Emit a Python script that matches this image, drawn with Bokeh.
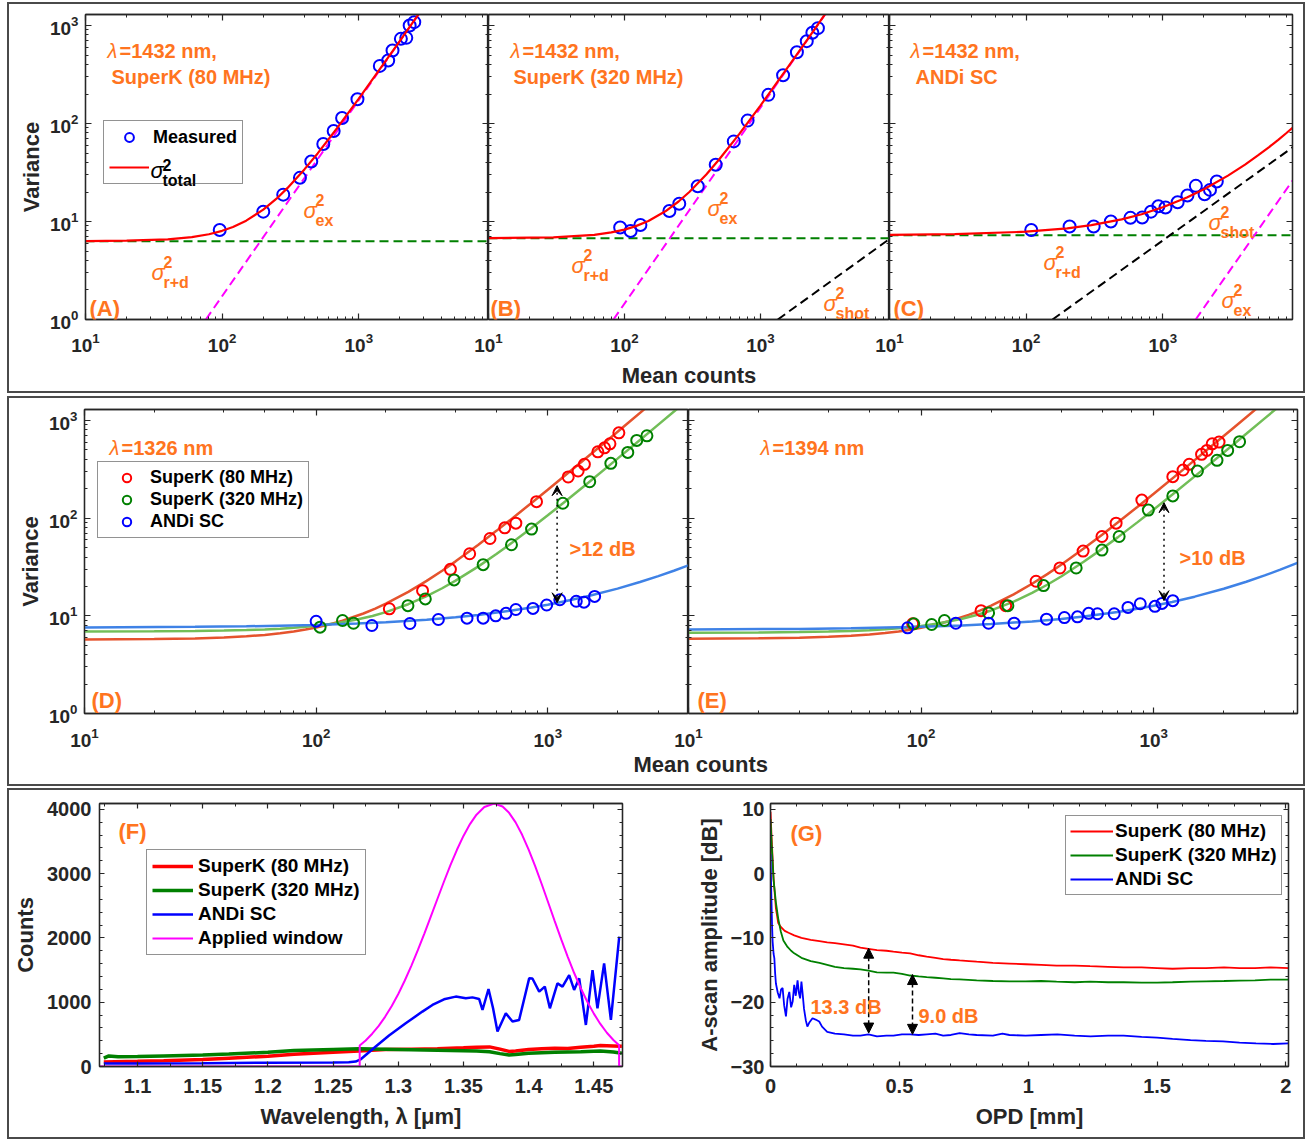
from bokeh.plotting import figure
from bokeh.models import (LogAxis, LinearAxis, Range1d, Label, Legend, LegendItem, Title,
                          Arrow, VeeHead, NormalHead, SingleIntervalTicker,
                          CustomJSTickFormatter)
from bokeh.layouts import row, column
from bokeh.embed import file_html
from bokeh.resources import INLINE

FONT = "Liberation Sans"
AX = "#262626"
ORANGE = "#FF7420"
BOX = {"border": "2px solid #4a4a4a"}

# ---------------- data: row 1 (lambda = 1432 nm) ----------------
A_meas_x = [96, 200, 280, 371, 449, 550, 655, 755, 978, 1426, 1642, 1766, 2033, 2227, 2357, 2547]
A_meas_y = [8.2, 12.6, 18.8, 27.9, 41, 61.7, 83.7, 113.7, 176.6, 387, 439, 555, 731, 748, 1001, 1082]
A_tot_x = [10, 20, 40, 60, 80, 100, 120, 150, 200, 250, 300, 400, 500, 700, 1000, 1500, 2000, 2700, 3000]
A_tot_y = [6.3, 6.37, 6.58, 6.92, 7.41, 8.03, 8.79, 10.2, 13.2, 17.1, 21.9, 34.0, 49.5, 91.1, 179, 396, 698, 1267, 1563]
A_rd_x = [10, 8900]
A_rd_y = [6.3, 6.3]
A_ex_x = [76, 2740]
A_ex_y = [1.0, 1299]

B_meas_x = [93, 111, 131, 214, 253, 346, 469, 637, 805, 1143, 1468, 1855, 2192, 2410, 2648]
B_meas_y = [8.7, 8.0, 9.2, 12.8, 15.2, 22.9, 37.9, 65.7, 107, 196, 311, 534, 692, 842, 940]
B_tot_x = [10, 30, 60, 80, 100, 120, 150, 200, 250, 300, 400, 500, 700, 1000, 1500, 2000, 2500, 3000]
B_tot_y = [6.76, 6.89, 7.31, 7.74, 8.27, 8.92, 10.1, 12.7, 16.0, 20.0, 30.2, 43.4, 78.3, 152.5, 334, 588, 915, 1314]
B_rd_x = [10, 8900]
B_rd_y = [6.74, 6.74]
B_ex_x = [83, 2990]
B_ex_y = [1.0, 1296]
B_shot_x = [1343, 8900]
B_shot_y = [1.0, 6.63]

C_meas_x = [109, 208, 312, 417, 580, 707, 820, 929, 1047, 1285, 1515, 1746, 2024, 2216, 2485]
C_meas_y = [8.2, 8.9, 8.9, 10.0, 10.9, 11.0, 12.6, 14.3, 13.9, 15.7, 18.4, 23.1, 19.0, 21.0, 25.6]
C_tot_x = [10, 30, 100, 200, 300, 500, 700, 1000, 1500, 2000, 3000, 4000, 5000, 6000, 7000, 8000, 8900]
C_tot_y = [7.29, 7.42, 7.87, 8.52, 9.18, 10.51, 11.87, 13.96, 17.57, 21.35, 29.4, 38.1, 47.5, 57.5, 68.2, 79.5, 90.3]
C_rd_x = [10, 8900]
C_rd_y = [7.23, 7.23]
C_shot_x = [156, 8900]
C_shot_y = [1.0, 57.0]
C_ex_x = [1741, 8900]
C_ex_y = [1.0, 26.1]

# ---------------- data: row 2 ----------------
D_red_px = [207, 288, 380, 460, 563, 652, 728, 894, 1225, 1352, 1439, 1645, 1758, 1855, 2027]
D_red_py = [11.8, 18.1, 29.9, 43.2, 61.9, 79.6, 88.9, 147.6, 264, 304, 356, 478, 525, 577, 747]
D_grn_px = [104, 130, 145, 249, 296, 394, 526, 697, 851, 1161, 1517, 1871, 2215, 2421, 2679]
D_grn_py = [7.65, 8.95, 8.4, 12.7, 14.9, 23.3, 33.4, 53.4, 77.2, 142, 236, 364, 471, 625, 697]
D_blu_px = [100, 174, 254, 337, 448, 526, 596, 660, 728, 863, 989, 1127, 1327, 1433, 1593]
D_blu_py = [8.8, 7.96, 8.34, 9.17, 9.46, 9.46, 10.0, 10.6, 11.6, 11.9, 12.9, 14.6, 14.1, 13.8, 15.8]
D_red_cx = [10, 20, 30, 40, 50, 60, 70, 80, 90, 100, 115, 130, 160, 180, 200, 250, 300, 350, 400, 500,
            600, 700, 850, 1000, 1400, 1800, 2200, 2600, 2800]
D_red_cy = [5.72, 5.78, 5.87, 6.0, 6.18, 6.38, 6.63, 6.92, 7.24, 7.6, 8.21, 8.91, 10.56, 11.86, 13.3, 17.6,
            22.8, 28.98, 36.1, 53.2, 74.1, 98.8, 143, 195.7, 378, 621, 925, 1290, 1495]
D_grn_cx = [10, 20, 30, 40, 50, 60, 70, 80, 90, 100, 120, 150, 175, 200, 250, 300, 350, 400, 500, 600,
            700, 850, 1000, 1200, 1500, 2000, 2500, 3000, 3600, 3800]
D_grn_cy = [6.91, 6.94, 6.99, 7.06, 7.15, 7.26, 7.39, 7.54, 7.71, 7.9, 8.34, 9.15, 9.96, 10.9, 13.15, 15.9,
            19.15, 22.9, 31.9, 42.9, 55.9, 79.15, 106.9, 150.9, 231.9, 406.9, 631.9, 906.9, 1302.9, 1450.9]
D_blu_cx = [10, 30, 50, 100, 150, 200, 300, 400, 500, 700, 850, 1000, 1200, 1500, 2000, 2500, 3000, 3500, 4050]
D_blu_cy = [7.6, 7.71, 7.81, 8.07, 8.34, 8.6, 9.13, 9.67, 10.22, 11.32, 12.16, 13.01, 14.16, 15.94, 18.99,
            22.18, 25.49, 28.94, 32.9]
D_arrow = [1097, 13.6, 215]

E_red_px = [92, 181, 231, 312, 395, 497, 599, 689, 889, 1208, 1337, 1421, 1605, 1693, 1784, 1909]
E_red_py = [8.3, 11.3, 12.7, 22.6, 30.9, 46, 64.9, 88.9, 153, 266, 311, 356, 450, 494, 577, 601]
E_grn_px = [93, 111, 126, 195, 236, 336, 464, 599, 710, 948, 1208, 1541, 1871, 2079, 2339]
E_grn_py = [8.3, 8.15, 8.95, 10.7, 12.7, 20.4, 30.9, 47.1, 64.9, 121, 169, 304, 391, 494, 606]
E_blu_px = [87.5, 141, 195, 251, 346, 413, 470, 525, 573, 676, 775, 875, 1012, 1085, 1208]
E_blu_py = [7.54, 8.4, 8.4, 8.4, 9.24, 9.6, 9.77, 10.6, 10.5, 10.5, 12.2, 13.3, 12.5, 13.4, 14.3]
E_red_cx = [10, 20, 30, 40, 50, 60, 70, 80, 90, 100, 115, 130, 160, 180, 200, 250, 300, 350, 400, 500,
            600, 700, 850, 1000, 1400, 1800, 2200, 2750, 2900]
E_red_cy = [5.84, 5.89, 5.98, 6.10, 6.25, 6.44, 6.66, 6.92, 7.21, 7.54, 8.10, 8.73, 10.22, 11.39, 12.7,
            16.57, 21.3, 26.89, 33.34, 48.82, 67.74, 90.1, 130.1, 177.8, 342.9, 563.1, 838.3, 1306.6, 1452]
E_grn_cx = [10, 20, 30, 40, 50, 60, 70, 80, 90, 100, 120, 150, 175, 200, 250, 300, 350, 400, 500, 600,
            700, 850, 1000, 1200, 1500, 2000, 2500, 3000, 3340, 3500]
E_grn_cy = [6.72, 6.76, 6.81, 6.90, 7.0, 7.13, 7.28, 7.45, 7.65, 7.87, 8.38, 9.32, 10.26, 11.35, 13.96,
            17.15, 20.92, 25.27, 35.71, 48.47, 63.55, 90.52, 122.7, 173.75, 267.7, 470.7, 731.7, 1050.7,
            1300.7, 1427.7]
E_blu_cx = [10, 30, 50, 100, 150, 200, 300, 400, 500, 700, 850, 1000, 1200, 1500, 2000, 2500, 3000, 3500, 4150]
E_blu_cy = [7.25, 7.35, 7.46, 7.71, 7.97, 8.24, 8.76, 9.3, 9.85, 10.96, 11.81, 12.68, 13.87, 15.71, 18.92,
            22.33, 25.92, 29.7, 34.9]
E_arrow = [1107, 14.3, 144]

# ---------------- data: row 3 ----------------
F_win_x = [1.0708, 1.2704, 1.2704, 1.275, 1.28, 1.285, 1.29, 1.295, 1.30, 1.305, 1.31, 1.315, 1.32, 1.325,
           1.33, 1.335, 1.34, 1.345, 1.35, 1.355, 1.36, 1.366, 1.3735, 1.38, 1.385, 1.39, 1.395, 1.40,
           1.405, 1.41, 1.415, 1.42, 1.425, 1.43, 1.435, 1.44, 1.445, 1.45, 1.455, 1.46, 1.465, 1.4694,
           1.4694, 1.472]
F_win_y = [0, 0, 326, 405, 510, 632, 776, 942, 1128, 1337, 1565, 1809, 2068, 2335, 2605, 2873, 3131, 3370,
           3586, 3770, 3916, 4036, 4090, 4043, 3945, 3796, 3603, 3373, 3116, 2838, 2550, 2261, 1976, 1705,
           1450, 1217, 1007, 822, 662, 525, 412, 329, 0, 0]
F_blu_x = [1.0741, 1.10, 1.15, 1.20, 1.25, 1.262, 1.2673, 1.271, 1.2827, 1.2929, 1.3057, 1.3185, 1.3262,
           1.3351, 1.3441, 1.3518, 1.3569, 1.3620, 1.3646, 1.3692, 1.3727, 1.3761, 1.3825, 1.3876, 1.3927,
           1.4004, 1.4029, 1.4081, 1.4124, 1.4163, 1.4221, 1.4260, 1.4311, 1.4349, 1.4388, 1.4439, 1.4490,
           1.4528, 1.4579, 1.4631, 1.4695]
F_blu_y = [45, 48, 52, 58, 62, 66, 77, 110, 310, 481, 672, 854, 957, 1045, 1087, 1060, 1075, 1050, 879,
           1205, 905, 543, 828, 699, 724, 1371, 1369, 1165, 1242, 905, 1293, 1242, 1422, 1190, 1371, 646,
           1500, 905, 1604, 724, 2019]
F_red_x = [1.0741, 1.10, 1.12, 1.15, 1.17, 1.20, 1.22, 1.25, 1.27, 1.29, 1.31, 1.33, 1.35, 1.36, 1.37,
           1.378, 1.385, 1.39, 1.40, 1.41, 1.42, 1.43, 1.44, 1.45, 1.455, 1.465, 1.4715]
F_red_y = [70, 80, 90, 110, 130, 160, 190, 220, 240, 265, 270, 275, 290, 300, 305, 270, 235, 240, 265, 275,
           285, 280, 300, 315, 325, 320, 315]
F_grn_x = [1.0741, 1.078, 1.085, 1.10, 1.12, 1.15, 1.17, 1.20, 1.22, 1.25, 1.27, 1.29, 1.31, 1.34, 1.36,
           1.37, 1.378, 1.385, 1.39, 1.40, 1.42, 1.44, 1.455, 1.465, 1.4715]
F_grn_y = [130, 165, 150, 155, 165, 180, 195, 220, 250, 265, 275, 270, 262, 250, 240, 230, 200, 180, 185,
           205, 220, 230, 240, 225, 205]

G_red_x = [0.0, 0.0045, 0.012, 0.021, 0.030, 0.040, 0.055, 0.07, 0.092, 0.12, 0.156, 0.19, 0.22, 0.25,
           0.285, 0.32, 0.349, 0.38, 0.413, 0.45, 0.477, 0.51, 0.542, 0.575, 0.606, 0.64, 0.67, 0.70, 0.734,
           0.77, 0.80, 0.863, 0.927, 0.99, 1.05, 1.11, 1.18, 1.24, 1.31, 1.37, 1.44, 1.50, 1.56, 1.63, 1.69,
           1.76, 1.82, 1.88, 1.94, 2.01]
G_red_y = [9.6, 5.4, -0.8, -5.4, -7.7, -8.3, -8.9, -9.2, -9.6, -10.0, -10.3, -10.5, -10.7, -10.8, -11.0,
           -11.2, -11.5, -11.7, -11.9, -12.0, -12.15, -12.3, -12.4, -12.7, -12.9, -13.1, -13.3, -13.4, -13.5,
           -13.6, -13.7, -13.9, -14.0, -14.1, -14.2, -14.3, -14.3, -14.4, -14.5, -14.6, -14.6, -14.7, -14.8,
           -14.7, -14.7, -14.6, -14.7, -14.7, -14.6, -14.7]
G_grn_x = [0.0, 0.0045, 0.012, 0.021, 0.03, 0.040, 0.05, 0.066, 0.08, 0.092, 0.12, 0.156, 0.19, 0.22, 0.25,
           0.285, 0.32, 0.349, 0.38, 0.413, 0.45, 0.477, 0.51, 0.542, 0.575, 0.606, 0.64, 0.67, 0.70, 0.734,
           0.80, 0.863, 0.927, 0.99, 1.05, 1.11, 1.18, 1.24, 1.31, 1.37, 1.44, 1.50, 1.56, 1.63, 1.69, 1.76,
           1.82, 1.88, 1.94, 2.01]
G_grn_y = [8.5, 4.5, -1.0, -4.5, -7.0, -9.0, -10.4, -11.4, -12.0, -12.4, -13.1, -13.6, -13.9, -14.2, -14.5,
           -14.7, -14.8, -14.9, -15.1, -15.35, -15.4, -15.4, -15.6, -15.85, -16.0, -16.1, -16.2, -16.3,
           -16.4, -16.45, -16.6, -16.7, -16.75, -16.75, -16.7, -16.8, -16.9, -16.8, -16.9, -16.9, -16.95,
           -16.95, -16.9, -16.8, -16.75, -16.7, -16.65, -16.6, -16.5, -16.5]
G_blu_x = [0.0, 0.003, 0.006, 0.0083, 0.012, 0.015, 0.018, 0.021, 0.028, 0.035, 0.041, 0.047, 0.053, 0.06,
           0.066, 0.073, 0.08, 0.086, 0.092, 0.098, 0.105, 0.11, 0.115, 0.12, 0.124, 0.13, 0.137, 0.143,
           0.15, 0.163, 0.175, 0.189, 0.2, 0.22, 0.25, 0.285, 0.32, 0.349, 0.38, 0.413, 0.45, 0.477, 0.51,
           0.542, 0.575, 0.606, 0.64, 0.67, 0.70, 0.734, 0.77, 0.80, 0.863, 0.90, 0.927, 0.99, 1.05, 1.113,
           1.18, 1.242, 1.31, 1.37, 1.44, 1.50, 1.56, 1.63, 1.69, 1.756, 1.82, 1.884, 1.95, 2.01]
G_blu_y = [3.0, -3.0, -8.0, -10.6, -12.5, -13.2, -15.5, -17.1, -18.5, -19.4, -18.0, -17.8, -20.5, -22.2,
           -19.5, -18.4, -20.8, -19.9, -17.3, -19.0, -16.6, -18.5, -19.4, -16.8, -18.4, -21.0, -22.8,
           -23.8, -23.2, -22.5, -22.7, -23.0, -23.8, -24.6, -24.9, -25.0, -25.2, -25.2, -25.0, -25.3,
           -25.2, -25.2, -25.0, -25.0, -25.1, -25.0, -24.9, -25.2, -25.1, -24.8, -25.0, -25.1, -25.2,
           -24.9, -25.1, -25.2, -25.1, -25.0, -25.2, -25.3, -25.2, -25.2, -25.4, -25.5, -25.7, -25.9,
           -26.0, -26.1, -26.3, -26.4, -26.5, -26.4]
G_arrow1 = [0.381, -11.6, -24.8]
G_arrow2 = [0.551, -15.7, -25.0]

SERIES = ["SuperK (80 MHz)", "SuperK (320 MHz)", "ANDi SC"]


# ---------------- helpers ----------------
def make_fig(w, h, xr, yr, mbl, mbr, mbt, mbb, log):
    kw = dict(width=w, height=h, x_range=xr, y_range=yr, output_backend="svg",
              toolbar_location=None, min_border_left=mbl, min_border_right=mbr,
              min_border_top=mbt, min_border_bottom=mbb)
    if log:
        kw["x_axis_type"] = "log"
        kw["y_axis_type"] = "log"
    p = figure(**kw)
    p.grid.visible = False
    p.outline_line_color = AX
    p.outline_line_width = 1.3
    p.border_fill_color = None
    p.background_fill_color = "white"
    return p


def blank_fmt():
    return CustomJSTickFormatter(code="return '';")


def style_axis(ax, lab_px, standoff, tin, tmin):
    ax.axis_line_color = AX
    ax.axis_line_width = 1.3
    ax.major_tick_line_color = AX
    ax.minor_tick_line_color = AX
    ax.major_tick_line_width = 1.2
    ax.minor_tick_line_width = 1.0
    ax.major_tick_in = tin
    ax.major_tick_out = 0
    ax.minor_tick_in = tmin
    ax.minor_tick_out = 0
    ax.major_label_text_font = FONT
    ax.major_label_text_font_style = "bold"
    ax.major_label_text_color = AX
    if lab_px:
        ax.major_label_text_font_size = f"{lab_px}px"
        ax.major_label_standoff = standoff
    else:
        ax.formatter = blank_fmt()
        ax.major_label_text_font_size = "1px"
        ax.major_label_standoff = 0
    ax.axis_label_text_font = FONT
    ax.axis_label_text_font_style = "bold"
    ax.axis_label_text_font_size = "22px"
    ax.axis_label_text_color = AX


def add_mirrors(p, log, xt=None, yt=None, tin=6, tmin=3):
    if log:
        top, right = LogAxis(), LogAxis()
    else:
        top, right = LinearAxis(ticker=xt), LinearAxis(ticker=yt)
    for ax in (top, right):
        style_axis(ax, 0, 0, tin, tmin)
    p.add_layout(top, "above")
    p.add_layout(right, "right")


def txt(p, f, x, y, s, size, style="bold", color=ORANGE, align="left"):
    fl, fb = f
    p.add_layout(Label(x=x - fl, y=fb - y, x_units="screen", y_units="screen", text=s,
                       text_font=FONT, text_font_size=f"{size}px", text_font_style=style,
                       text_color=color, text_align=align, text_baseline="alphabetic",
                       level="overlay"))


def sigma(p, f, x, y, sub, dsup=11, dsub=10, color=ORANGE):
    txt(p, f, x, y, "σ", 22, "italic", color)
    txt(p, f, x + 12, y - dsup, "2", 16, "bold", color)
    txt(p, f, x + 12, y + dsub, sub, 16, "bold", color)


def lam(p, f, x, y, rest):
    txt(p, f, x, y, "λ", 20, "italic")
    txt(p, f, x + 12, y, rest, 20)


def style_leg(leg, size, pad, spacing, lh, gw, standoff):
    leg.label_text_font = FONT
    leg.label_text_font_style = "bold"
    leg.label_text_font_size = f"{size}px"
    leg.label_text_color = "black"
    leg.border_line_color = AX
    leg.border_line_width = 1.2
    leg.background_fill_color = "white"
    leg.background_fill_alpha = 1
    leg.padding = pad
    leg.spacing = spacing
    leg.margin = 0
    leg.label_height = lh
    leg.glyph_height = lh
    leg.glyph_width = gw
    leg.label_standoff = standoff


def vrange_panel(w, mbl, mbr, show_y, x_end, h, mbt, mbb, xstand):
    p = make_fig(w, h, Range1d(10, x_end), Range1d(1, 1295), mbl, mbr, mbt, mbb, True)
    style_axis(p.below[0], 19, xstand, 6, 3)
    style_axis(p.left[0], 19 if show_y else 0, 7, 6, 3)
    add_mirrors(p, True)
    return p


# ---------------- row 1 ----------------
fA, fB, fC = (85, 319), (488, 319), (889, 319)
pA = vrange_panel(479, 76, 0, True, 8900, 387, 10, 72, 13)
pB = vrange_panel(421, 20, 0, False, 8900, 387, 10, 72, 13)
pC = vrange_panel(434, 20, 11, False, 8900, 387, 10, 72, 13)
pB.margin = (0, 0, 0, -20)
pC.margin = (0, 0, 0, -20)
pA.left[0].axis_label = "Variance"
pA.left[0].axis_label_standoff = 3
pB.below[0].axis_label = "Mean counts"
pB.below[0].axis_label_standoff = 8

dash = "9 5"
for p, rx, ry in [(pA, A_rd_x, A_rd_y), (pB, B_rd_x, B_rd_y), (pC, C_rd_x, C_rd_y)]:
    p.line(rx, ry, line_color="#008000", line_width=2, line_dash=dash)

pA.line(A_ex_x, A_ex_y, line_color="#FF00FF", line_width=2, line_dash=dash)
pB.line(B_ex_x, B_ex_y, line_color="#FF00FF", line_width=2, line_dash=dash)
pB.line(B_shot_x, B_shot_y, line_color="black", line_width=2, line_dash=dash)
pC.line(C_shot_x, C_shot_y, line_color="black", line_width=2, line_dash=dash)
pC.line(C_ex_x, C_ex_y, line_color="#FF00FF", line_width=2, line_dash=dash)

ptsA = pA.scatter(A_meas_x, A_meas_y, marker="circle", size=12, fill_color=None, line_color="#0000FF", line_width=2)
pB.scatter(B_meas_x, B_meas_y, marker="circle", size=12, fill_color=None, line_color="#0000FF", line_width=2)
pC.scatter(C_meas_x, C_meas_y, marker="circle", size=12, fill_color=None, line_color="#0000FF", line_width=2)
totA = pA.line(A_tot_x, A_tot_y, line_color="#FF0000", line_width=2.2)
pB.line(B_tot_x, B_tot_y, line_color="#FF0000", line_width=2.2)
pC.line(C_tot_x, C_tot_y, line_color="#FF0000", line_width=2.2)

legA = Legend(items=[LegendItem(label="Measured", renderers=[ptsA]),
                     LegendItem(label=" ", renderers=[totA])], location=(18, 135))
style_leg(legA, 18, 5, 8, 22, 40, 4)
legA.background_fill_alpha = 0
pA.add_layout(legA)
sigma(pA, fA, 150, 170, "total", dsup=6, dsub=10, color="black")

lam(pA, fA, 107, 50, "=1432 nm,")
txt(pA, fA, 111, 76, "SuperK (80 MHz)", 20)
txt(pA, fA, 89, 308, "(A)", 22)
sigma(pA, fA, 303, 210, "ex")
sigma(pA, fA, 151, 272, "r+d")

lam(pB, fB, 510, 50, "=1432 nm,")
txt(pB, fB, 513, 76, "SuperK (320 MHz)", 20)
txt(pB, fB, 490, 308, "(B)", 22)
sigma(pB, fB, 707, 208, "ex")
sigma(pB, fB, 571, 265, "r+d")
sigma(pB, fB, 823, 303, "shot")

lam(pC, fC, 910, 50, "=1432 nm,")
txt(pC, fC, 915, 76, "ANDi SC", 20)
txt(pC, fC, 893, 308, "(C)", 22)
sigma(pC, fC, 1208, 222, "shot")
sigma(pC, fC, 1043, 262, "r+d")
sigma(pC, fC, 1221, 300, "ex")

# ---------------- row 2 ----------------
fD, fE = (84, 713), (688, 713)
pD = vrange_panel(679, 75, 0, True, 4050, 386, 11, 71, 14)
pE = vrange_panel(685, 70, 6, False, 4150, 386, 11, 71, 14)
pE.margin = (0, 0, 0, -70)
pD.left[0].axis_label = "Variance"
pD.left[0].axis_label_standoff = 3
pE.add_layout(Title(text="Mean counts", align="left", offset=-55, standoff=0,
                    text_font=FONT, text_font_size="22px", text_font_style="bold",
                    text_color=AX), "below")

CRED, CGRN, CBLU = "#E5532D", "#72BE58", "#3F82E6"
for p, cur, pts in [(pD, [(D_red_cx, D_red_cy), (D_grn_cx, D_grn_cy), (D_blu_cx, D_blu_cy)],
                     [(D_red_px, D_red_py), (D_grn_px, D_grn_py), (D_blu_px, D_blu_py)]),
                    (pE, [(E_red_cx, E_red_cy), (E_grn_cx, E_grn_cy), (E_blu_cx, E_blu_cy)],
                     [(E_red_px, E_red_py), (E_grn_px, E_grn_py), (E_blu_px, E_blu_py)])]:
    for (cx, cy), col in zip(cur, [CRED, CGRN, CBLU]):
        p.line(cx, cy, line_color=col, line_width=2.5)
    rs = []
    for (px_, py_), col in zip(pts, ["#FF0000", "#008000", "#0000FF"]):
        rs.append(p.scatter(px_, py_, marker="circle", size=11, fill_color=None, line_color=col, line_width=2))
    if p is pD:
        legD = Legend(items=[LegendItem(label=s, renderers=[r]) for s, r in zip(SERIES, rs)],
                      location=(13, 175))
        style_leg(legD, 18, 5, 1, 21, 47, 0)
        pD.add_layout(legD)

for p, arr in [(pD, D_arrow), (pE, E_arrow)]:
    p.add_layout(Arrow(x_start=arr[0], y_start=arr[1], x_end=arr[0], y_end=arr[2],
                       start=VeeHead(size=10, fill_color="black", line_color="black"),
                       end=VeeHead(size=10, fill_color="black", line_color="black"),
                       line_color="black", line_width=1.5, line_dash="dotted"))

lam(pD, fD, 109, 447, "=1326 nm")
txt(pD, fD, 569, 548, ">12 dB", 20)
txt(pD, fD, 91, 700, "(D)", 22)
lam(pE, fE, 760, 447, "=1394 nm")
txt(pE, fE, 1179, 557, ">10 dB", 20)
txt(pE, fE, 697, 700, "(E)", 22)

# ---------------- row 3 ----------------
fF, fG = (99, 1066), (765, 1066)

pF = make_fig(684, 347, Range1d(1.0708, 1.472), Range1d(0, 4090), 90, 71, 13, 71, False)
pF.below[0].ticker = SingleIntervalTicker(interval=0.05, num_minor_ticks=2)
pF.left[0].ticker = SingleIntervalTicker(interval=1000, num_minor_ticks=5)
pF.below[0].formatter = CustomJSTickFormatter(code="return String(parseFloat(tick.toFixed(3)));")
style_axis(pF.below[0], 20, 12, 5, 3)
style_axis(pF.left[0], 20, 8, 5, 3)
pF.below[0].axis_label = "Wavelength, λ [μm]"
pF.below[0].axis_label_standoff = 8
pF.left[0].axis_label = "Counts"
pF.left[0].axis_label_standoff = 6
add_mirrors(pF, False, SingleIntervalTicker(interval=0.05, num_minor_ticks=2),
            SingleIntervalTicker(interval=1000, num_minor_ticks=5), 5, 3)

rFr = pF.line(F_red_x, F_red_y, line_color="#FF0000", line_width=3.5)
rFg = pF.line(F_grn_x, F_grn_y, line_color="#008000", line_width=3.5)
rFb = pF.line(F_blu_x, F_blu_y, line_color="#0000FF", line_width=2.5)
rFw = pF.line(F_win_x, F_win_y, line_color="#FF00FF", line_width=2)
legF = Legend(items=[LegendItem(label=SERIES[0], renderers=[rFr]),
                     LegendItem(label=SERIES[1], renderers=[rFg]),
                     LegendItem(label=SERIES[2], renderers=[rFb]),
                     LegendItem(label="Applied window", renderers=[rFw])], location=(47, 111))
style_leg(legF, 19, 5, 2, 22, 41, 5)
pF.add_layout(legF)
txt(pF, fF, 118, 831, "(F)", 22)

pG = make_fig(610, 347, Range1d(0, 2.01), Range1d(-30, 10.9), 72, 15, 13, 71, False)
pG.below[0].ticker = SingleIntervalTicker(interval=0.5, num_minor_ticks=5)
pG.left[0].ticker = SingleIntervalTicker(interval=10, num_minor_ticks=5)
pG.below[0].formatter = CustomJSTickFormatter(code="return String(parseFloat(tick.toFixed(3)));")
style_axis(pG.below[0], 20, 12, 5, 3)
style_axis(pG.left[0], 20, 6, 5, 3)
pG.below[0].axis_label = "OPD [mm]"
pG.below[0].axis_label_standoff = 8
pG.left[0].axis_label = "A-scan amplitude [dB]"
pG.left[0].axis_label_standoff = 6
add_mirrors(pG, False, SingleIntervalTicker(interval=0.5, num_minor_ticks=5),
            SingleIntervalTicker(interval=10, num_minor_ticks=5), 5, 3)

rGr = pG.line(G_red_x, G_red_y, line_color="#FF0000", line_width=1.8)
rGg = pG.line(G_grn_x, G_grn_y, line_color="#008000", line_width=1.8)
rGb = pG.line(G_blu_x, G_blu_y, line_color="#0000FF", line_width=1.8)
legG = Legend(items=[LegendItem(label=s, renderers=[r]) for s, r in zip(SERIES, [rGr, rGg, rGb])],
              location=(295, 171))
style_leg(legG, 19, 4, 2, 22, 43, 2)
pG.add_layout(legG)
for arr in (G_arrow1, G_arrow2):
    pG.add_layout(Arrow(x_start=arr[0], y_start=arr[1], x_end=arr[0], y_end=arr[2],
                        start=NormalHead(size=10, fill_color="black", line_color="black"),
                        end=NormalHead(size=10, fill_color="black", line_color="black"),
                        line_color="black", line_width=1.5, line_dash="5 3"))
txt(pG, fG, 785, 833, "(G)", 22)
txt(pG, fG, 805, 1006, "13.3 dB", 20)
txt(pG, fG, 913, 1015, "9.0 dB", 20)

# ---------------- layout ----------------
r1 = row(pA, pB, pC, styles=BOX, margin=(2, 0, 0, 7))
r2 = row(pD, pE, styles=BOX, margin=(3, 0, 0, 7))
r3 = row(pF, pG, styles=BOX, margin=(2, 0, 0, 7))
page = column(r1, r2, r3)

open("out.html", "w").write(file_html(page, INLINE))
